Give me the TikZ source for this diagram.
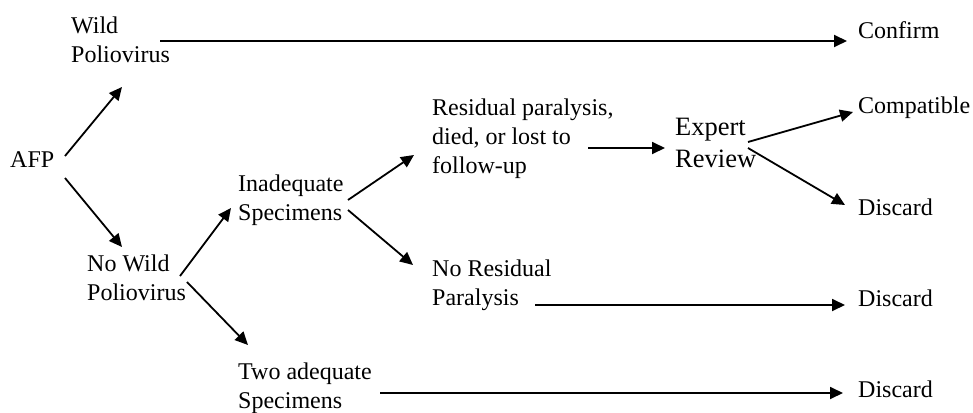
\documentclass[tikz,border=0pt]{standalone}
\usepackage{fontspec}
\setmainfont{Liberation Serif}
\usetikzlibrary{arrows.meta,calc}

\begin{document}
\begin{tikzpicture}[x=1pt,y=-1pt,>={Triangle[length=13pt,width=12pt]},
	txt/.style={anchor=base west,inner sep=0pt,align=left,font=\fontsize{24}{29}\selectfont},
	big/.style={txt,font=\fontsize{26.5}{32}\selectfont},
	arr/.style={->,line width=1.8pt}]
	\useasboundingbox (0,0) rectangle (973,412);
	
	% bal oldal (base = utolso sor alapvonala)
	\node[txt] (afp) at (10,167) {AFP};
	\node[txt] (wild) at (71,63) {Wild\\Poliovirus};
	\node[txt] (nowild) at (87,300) {No Wild\\Poliovirus};
	\node[txt] (inad) at (238,220) {Inadequate\\Specimens};
	\node[txt] (two) at (238,408) {Two adequate\\Specimens};
	
	% kozepso resz
	\node[txt] (resid) at (432,173) {Residual paralysis,\\died, or lost to\\follow-up};
	\node[txt] (nores) at (432,305) {No Residual\\Paralysis};
	\node[big] (expert) at (675,167) {Expert\\Review};
	
	% kimenetek
	\node[txt] (confirm) at (858,38) {Confirm};
	\node[txt] (compat) at (858,113) {Compatible};
	\node[txt] (disc1) at (858,215) {Discard};
	\node[txt] (disc2) at (858,306) {Discard};
	\node[txt] (disc3) at (858,397) {Discard};
	
	% nyilak
	\draw[arr] ($(afp.base west)+(55,-11)$) -- ($(wild.base west)+(51,24)$);
	\draw[arr] ($(afp.base west)+(55,11)$) -- ($(nowild.base west)+(35,-53)$);
	\draw[arr] ($(wild.base west)+(89,-22)$) -- ($(confirm.base west)+(-11,3)$);
	\draw[arr] ($(nowild.base west)+(93,-24)$) -- ($(inad.base west)+(-7,-12)$);
	\draw[arr] ($(nowild.base west)+(100,-18)$) -- ($(two.base west)+(10,-63)$);
	\draw[arr] ($(inad.base west)+(110,-20)$) -- ($(resid.base west)+(-18,-18)$);
	\draw[arr] ($(inad.base west)+(110,-10)$) -- ($(nores.base west)+(-19,-40)$);
	\draw[arr] ($(resid.base west)+(156,-25)$) -- ($(expert.base west)+(-10,-19)$);
	\draw[arr] ($(expert.base west)+(73,-25)$) -- ($(compat.base west)+(-5,-1)$);
	\draw[arr] ($(expert.base west)+(73,-19)$) -- ($(disc1.base west)+(-13,-10)$);
	\draw[arr] ($(nores.base west)+(103,0)$) -- ($(disc2.base west)+(-13,-1)$);
	\draw[arr] ($(two.base west)+(142,-15)$) -- ($(disc3.base west)+(-15,-4)$);
\end{tikzpicture}
\end{document}
